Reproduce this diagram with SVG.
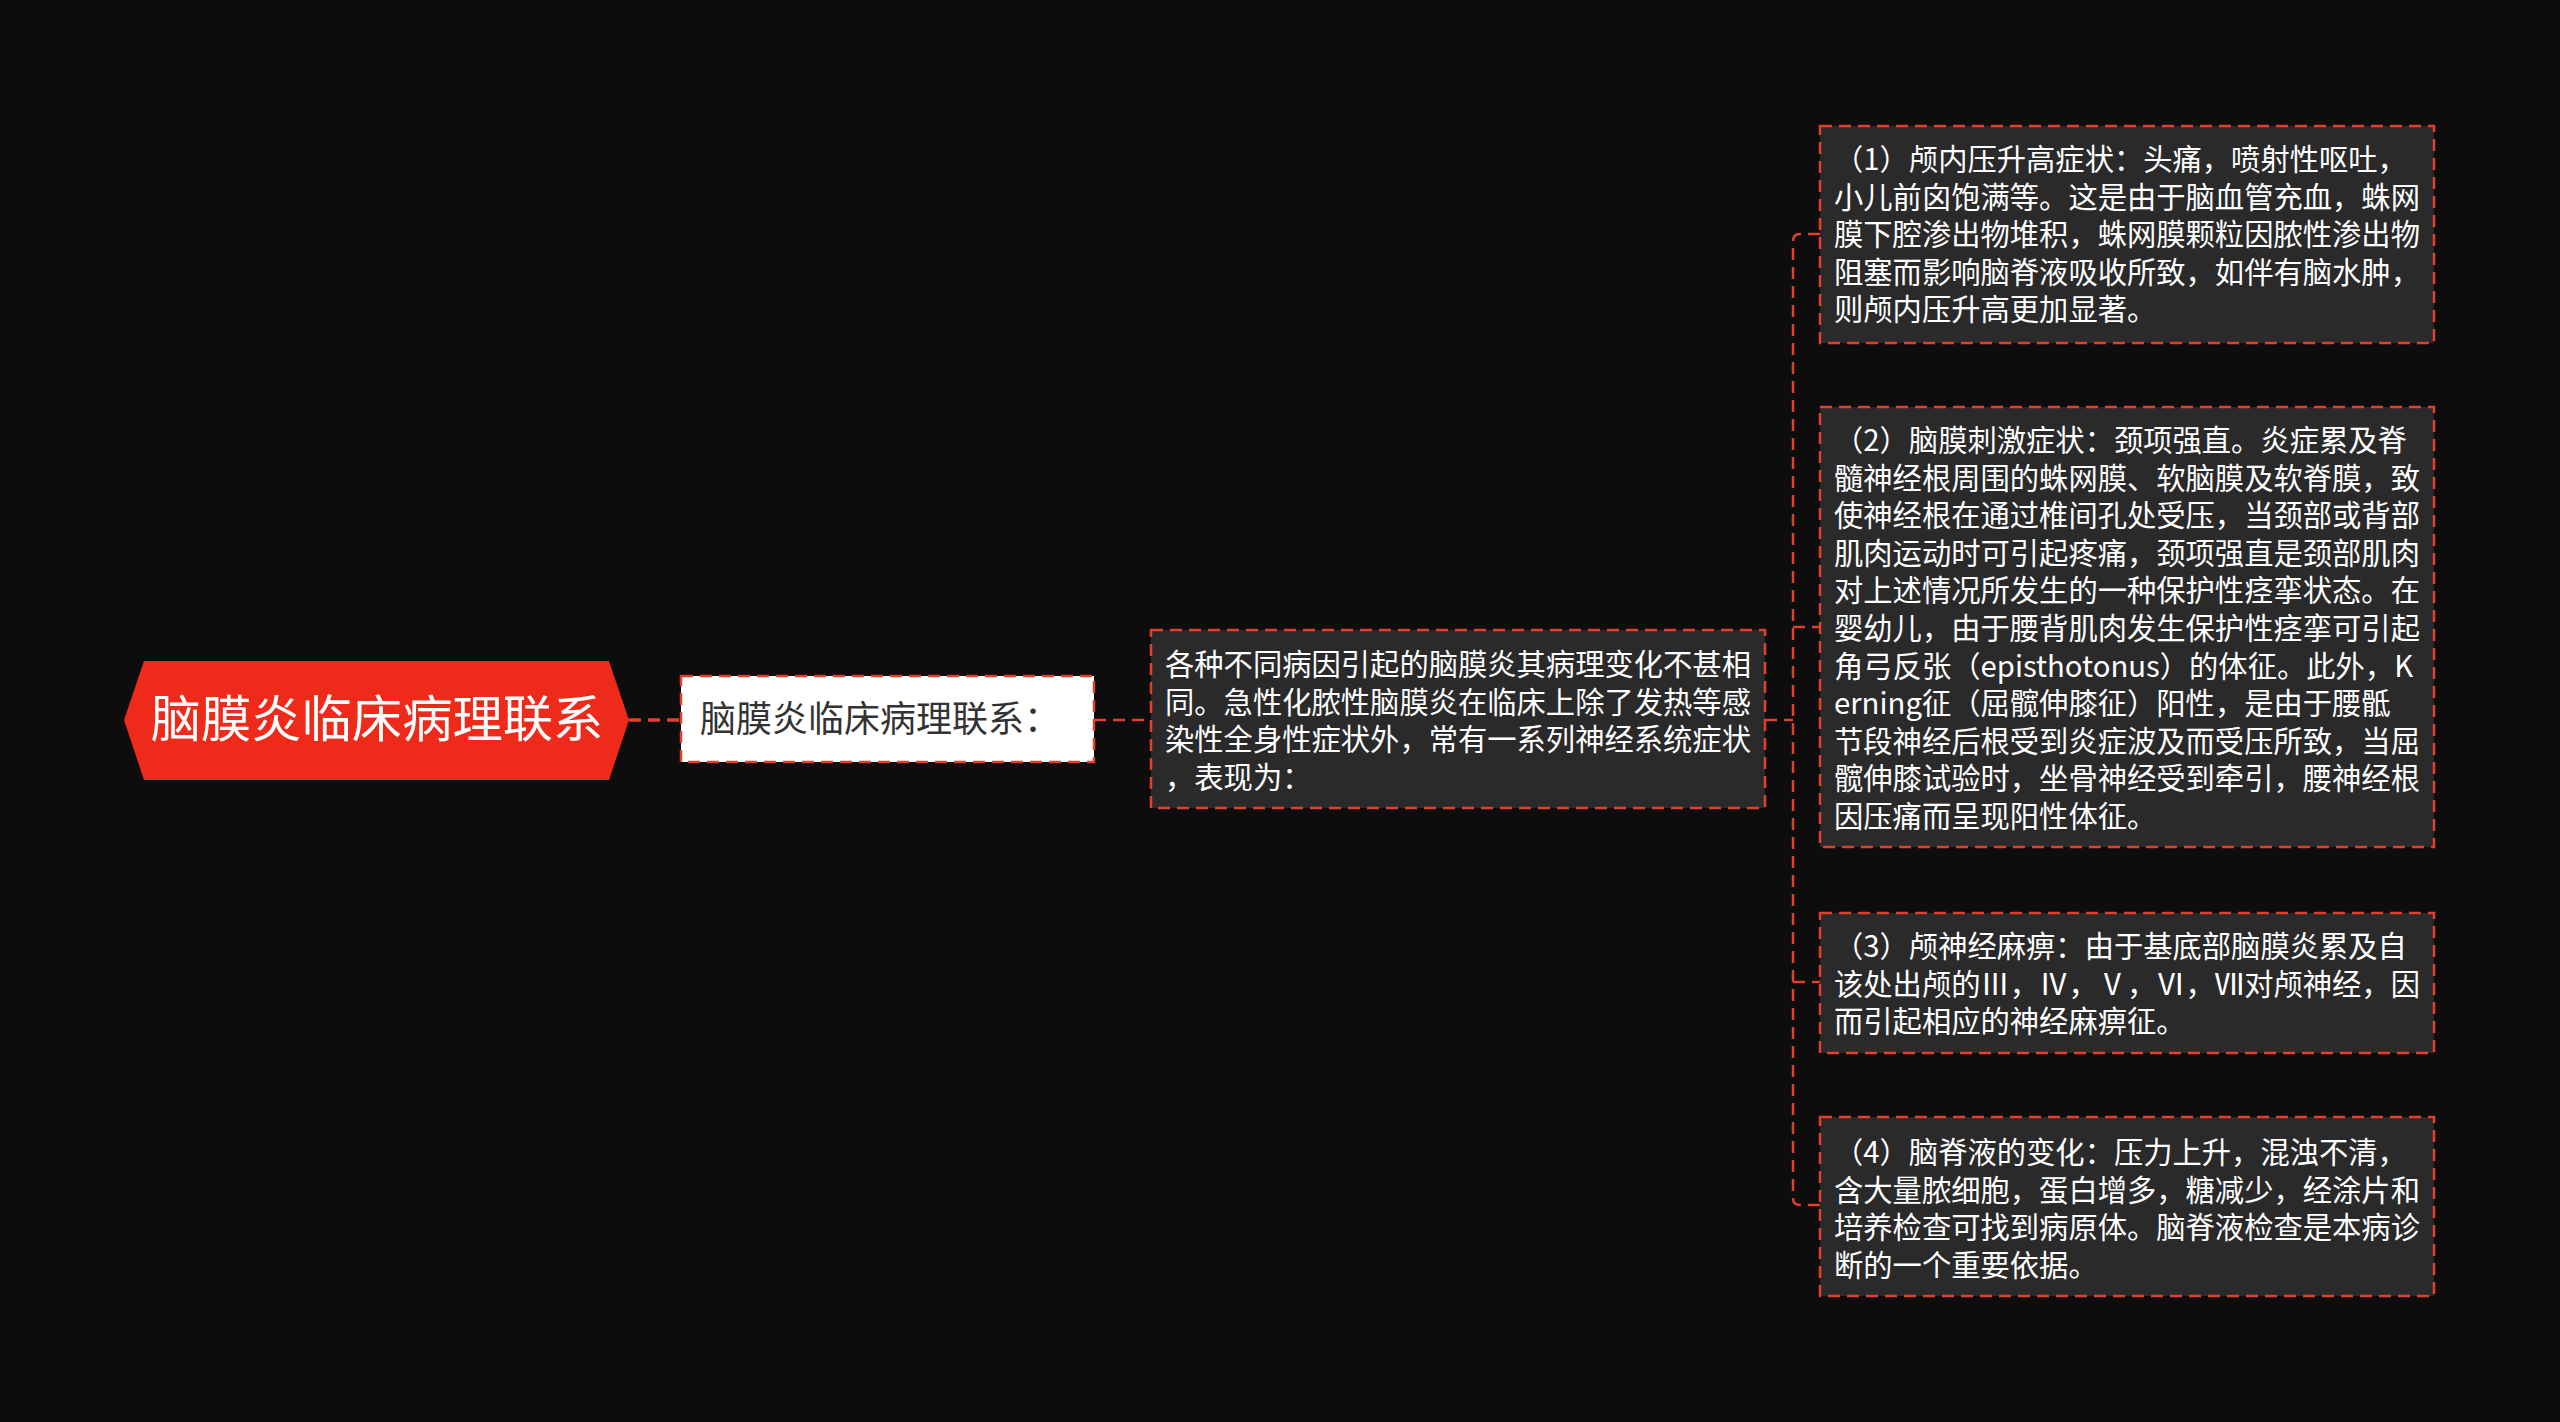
<svg xmlns="http://www.w3.org/2000/svg" width="2560" height="1422" viewBox="0 0 2560 1422">
<style>
.t{font-family:"Noto Sans CJK SC","Noto Sans",sans-serif;}
.box{fill:#2a2a2a;stroke:#e0402c;stroke-width:2.5;stroke-dasharray:12 7;}
.wt{fill:#ffffff;font-size:29.3px;}
.con{fill:none;stroke:#e0402c;stroke-width:2.5;stroke-dasharray:12 7;}
</style>
<rect x="0" y="0" width="2560" height="1422" fill="#0d0d0d"/>
<g id="connectors">
<line class="con" x1="629" y1="720" x2="681" y2="720" style="stroke-width:3.5"/>
<line class="con" x1="1094" y1="720" x2="1151" y2="720"/>
<line class="con" x1="1765" y1="720" x2="1793" y2="720"/>
<path class="con" d="M1820 234 H1800 Q1793 234 1793 241 V1198 Q1793 1205 1800 1205 H1820"/>
<line class="con" x1="1793" y1="627" x2="1820" y2="627"/>
<line class="con" x1="1793" y1="982" x2="1820" y2="982"/>
</g>
<g id="root">
<polygon points="124,720 144,661 609,661 629,720 609,780 144,780" fill="#ee2a1a"/>
<text class="t" x="377" y="737" text-anchor="middle" font-size="50.3" fill="#ffffff">脑膜炎临床病理联系</text>
</g>
<g id="n1">
<rect x="681" y="676" width="413" height="86" fill="#ffffff" stroke="#e0402c" stroke-width="2.5" stroke-dasharray="12 7"/>
<text class="t" x="700" y="732" font-size="36" fill="#333333">脑膜炎临床病理联系：</text>
</g>
<g id="n2">
<rect class="box" x="1151" y="630" width="614" height="178"/>
<text class="t wt" x="1165" y="675"><tspan x="1165">各种不同病因引起的脑膜炎其病理变化不甚相</tspan><tspan x="1165" dy="37.6">同。急性化脓性脑膜炎在临床上除了发热等感</tspan><tspan x="1165" dy="37.6">染性全身性症状外，常有一系列神经系统症状</tspan><tspan x="1165" dy="37.6">，表现为：</tspan></text>
</g>
<g id="r1">
<rect class="box" x="1820" y="126" width="614" height="217"/>
<text class="t wt" x="1834" y="170"><tspan x="1834">（1）颅内压升高症状：头痛，喷射性呕吐，</tspan><tspan x="1834" dy="37.6">小儿前囟饱满等。这是由于脑血管充血，蛛网</tspan><tspan x="1834" dy="37.6">膜下腔渗出物堆积，蛛网膜颗粒因脓性渗出物</tspan><tspan x="1834" dy="37.6">阻塞而影响脑脊液吸收所致，如伴有脑水肿，</tspan><tspan x="1834" dy="37.6">则颅内压升高更加显著。</tspan></text>
</g>
<g id="r2">
<rect class="box" x="1820" y="407" width="614" height="440"/>
<text class="t wt" x="1834" y="451"><tspan x="1834">（2）脑膜刺激症状：颈项强直。炎症累及脊</tspan><tspan x="1834" dy="37.6">髓神经根周围的蛛网膜、软脑膜及软脊膜，致</tspan><tspan x="1834" dy="37.6">使神经根在通过椎间孔处受压，当颈部或背部</tspan><tspan x="1834" dy="37.6">肌肉运动时可引起疼痛，颈项强直是颈部肌肉</tspan><tspan x="1834" dy="37.6">对上述情况所发生的一种保护性痉挛状态。在</tspan><tspan x="1834" dy="37.6">婴幼儿，由于腰背肌肉发生保护性痉挛可引起</tspan><tspan x="1834" dy="37.6">角弓反张（episthotonus）的体征。此外，K</tspan><tspan x="1834" dy="37.6">erning征（屈髋伸膝征）阳性，是由于腰骶</tspan><tspan x="1834" dy="37.6">节段神经后根受到炎症波及而受压所致，当屈</tspan><tspan x="1834" dy="37.6">髋伸膝试验时，坐骨神经受到牵引，腰神经根</tspan><tspan x="1834" dy="37.6">因压痛而呈现阳性体征。</tspan></text>
</g>
<g id="r3">
<rect class="box" x="1820" y="913" width="614" height="140"/>
<text class="t wt" x="1834" y="957"><tspan x="1834">（3）颅神经麻痹：由于基底部脑膜炎累及自</tspan><tspan x="1834" dy="37.6">该处出颅的Ⅲ，Ⅳ，Ⅴ，Ⅵ，Ⅶ对颅神经，因</tspan><tspan x="1834" dy="37.6">而引起相应的神经麻痹征。</tspan></text>
</g>
<g id="r4">
<rect class="box" x="1820" y="1117" width="614" height="179"/>
<text class="t wt" x="1834" y="1163"><tspan x="1834">（4）脑脊液的变化：压力上升，混浊不清，</tspan><tspan x="1834" dy="37.6">含大量脓细胞，蛋白增多，糖减少，经涂片和</tspan><tspan x="1834" dy="37.6">培养检查可找到病原体。脑脊液检查是本病诊</tspan><tspan x="1834" dy="37.6">断的一个重要依据。</tspan></text>
</g>
</svg>
